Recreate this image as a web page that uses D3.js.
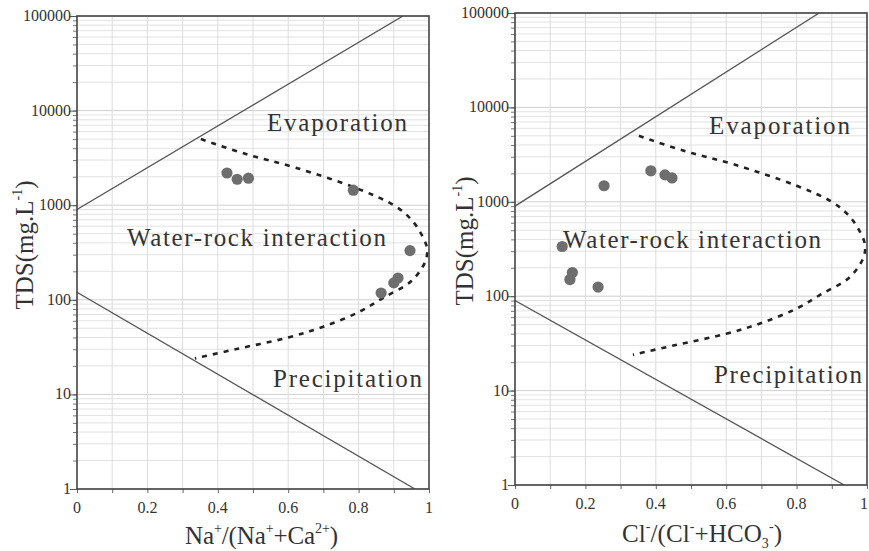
<!DOCTYPE html>
<html><head><meta charset="utf-8">
<script src="https://cdn.jsdelivr.net/npm/d3@7"></script>
<style>body{margin:0;background:#fff}svg{display:block}</style>
</head><body><div id="chart"></div>
<script>
// ---- data ----
const xTickValues = [0, 0.2, 0.4, 0.6, 0.8, 1];
const xTickLabels = ["0", "0.2", "0.4", "0.6", "0.8", "1"];
const yTickValues = [1, 10, 100, 1000, 10000, 100000];
const yTickLabels = ["1", "10", "100", "1000", "10000", "100000"];

// left panel: Na+/(Na+ + Ca2+)
const naRatio = [0.426, 0.455, 0.487, 0.785, 0.946, 0.912, 0.900, 0.864];
const naTDS   = [2190, 1880, 1930, 1440, 331, 170, 151, 118];
const naEvapLine   = [[0, 900], [0.926, 100000]];
const naPrecipLine = [[0, 120], [0.96, 1]];

// right panel: Cl-/(Cl- + HCO3-)
const clRatio = [0.386, 0.426, 0.446, 0.253, 0.134, 0.163, 0.156, 0.236];
const clTDS   = [2130, 1930, 1790, 1480, 336, 178, 150, 125];
const clEvapLine   = [[0, 900], [0.864, 100000]];
const clPrecipLine = [[0, 90], [0.935, 1]];

// boomerang (dashed) boundary, same in both panels
const curveX   = [0.352, 0.48, 0.62, 0.80, 0.90, 0.946, 0.975, 0.994, 0.99, 0.95, 0.87, 0.80, 0.70, 0.60, 0.45, 0.335];
const curveTDS = [5000, 3470, 2500, 1480, 1000, 730, 520, 355, 257, 158, 105, 74, 52, 40, 30, 24];

const regionLabels = ["Evaporation", "Water-rock interaction", "Precipitation"];

// ---- drawing ----
const W = 869, H = 551;
const FONT = "'Liberation Serif', 'Times New Roman', Times, 'DejaVu Serif', serif";
const svg = d3.select("#chart").append("svg").attr("width", W).attr("height", H)
  .attr("font-family", FONT);

function drawPanel(cfg) {
  const x = d3.scaleLinear().domain([0, 1]).range([cfg.x0, cfg.x1]);
  const y = d3.scaleLog().domain([1, 100000]).range([cfg.y1, cfg.y0]);
  const g = svg.append("g");

  // grid
  const minor = [];
  for (let e = 0; e < 5; e++) for (let m = 1; m <= 9; m++) minor.push(m * Math.pow(10, e));
  minor.push(100000);
  g.selectAll(".hg").data(minor).enter().append("line")
    .attr("x1", cfg.x0).attr("x2", cfg.x1)
    .attr("y1", d => y(d)).attr("y2", d => y(d))
    .attr("stroke", d => Math.abs(Math.log10(d) % 1) < 1e-9 ? "#cfcfcf" : "#e2e2e2").attr("stroke-width", 1);
  g.selectAll(".vg").data(d3.range(1, 10).map(i => i / 10)).enter().append("line")
    .attr("y1", cfg.y0).attr("y2", cfg.y1)
    .attr("x1", d => x(d)).attr("x2", d => x(d))
    .attr("stroke", "#dcdcdc").attr("stroke-width", 1);

  // axes
  g.append("g").attr("transform", `translate(${cfg.x0},0)`)
    .call(d3.axisLeft(y).tickValues(minor).tickSize(4).tickFormat(""))
    .call(a => { a.select(".domain").remove(); a.selectAll("line").attr("stroke", "#777"); });
  g.append("g").attr("transform", `translate(${cfg.x0},0)`)
    .call(d3.axisLeft(y).tickValues(yTickValues).tickSize(7).tickFormat(""))
    .call(a => { a.select(".domain").remove(); a.selectAll("line").attr("stroke", "#555"); });
  g.append("g").attr("transform", `translate(0,${cfg.y1})`)
    .call(d3.axisBottom(x).tickValues(d3.range(0, 11).map(i => i / 10)).tickSize(4).tickFormat(""))
    .call(a => { a.select(".domain").remove(); a.selectAll("line").attr("stroke", "#666"); });

  g.selectAll(".yl").data(yTickValues).enter().append("text")
    .attr("x", cfg.x0 - 6).attr("y", d => y(d) + 5).attr("fill", "#333")
    .attr("text-anchor", "end").attr("font-size", 16).text((d, i) => yTickLabels[i]);
  g.selectAll(".xl").data(xTickValues).enter().append("text")
    .attr("x", d => Math.min(x(d), W - 5)).attr("y", cfg.y1 + 24).attr("fill", "#333")
    .attr("text-anchor", "middle").attr("font-size", 16).text((d, i) => xTickLabels[i]);

  // clip
  const clipId = "clip" + cfg.id;
  svg.append("clipPath").attr("id", clipId).append("rect")
    .attr("x", cfg.x0).attr("y", cfg.y0).attr("width", cfg.x1 - cfg.x0).attr("height", cfg.y1 - cfg.y0);
  const pg = g.append("g").attr("clip-path", `url(#${clipId})`);
  const line = d3.line().x(d => x(d[0])).y(d => y(d[1]));
  [cfg.evap, cfg.precip].forEach(l => {
    pg.append("path").attr("d", line(l)).attr("fill", "none").attr("stroke", "#555").attr("stroke-width", 1.3);
  });
  const curvePts = curveX.map((v, i) => [v, curveTDS[i]]);
  pg.append("path").attr("d", d3.line().x(d => x(d[0])).y(d => y(d[1])).curve(d3.curveCatmullRom)(curvePts))
    .attr("fill", "none").attr("stroke", "#222").attr("stroke-width", 2.6).attr("stroke-dasharray", "5,6");

  // points
  g.selectAll(".pt").data(cfg.px).enter().append("circle")
    .attr("cx", d => x(d)).attr("cy", (d, i) => y(cfg.py[i])).attr("r", 5.6).attr("fill", "#6e6e6e");

  // frame
  g.append("rect").attr("x", cfg.x0).attr("y", cfg.y0).attr("width", cfg.x1 - cfg.x0).attr("height", cfg.y1 - cfg.y0)
    .attr("fill", "none").attr("stroke", "#444").attr("stroke-width", 1.6);

  // region labels
  cfg.labels.forEach((l, i) => {
    g.append("text").attr("x", l[0]).attr("y", l[1]).attr("font-size", 25).attr("fill", "#333")
      .attr("textLength", l[2]).attr("lengthAdjust", "spacing").text(regionLabels[i]);
  });

  // y title
  const yt = g.append("text").attr("transform", `translate(${cfg.ytx},${cfg.yty}) rotate(-90)`)
    .attr("text-anchor", "middle").attr("font-size", 25).attr("fill", "#333");
  yt.append("tspan").text("TDS(mg.L");
  yt.append("tspan").attr("font-size", 14).attr("dy", -11).text("-1");
  yt.append("tspan").attr("dy", 11).text(")");

  // x title
  const xt = g.append("text").attr("x", cfg.xtx).attr("y", cfg.xty).attr("font-size", 25).attr("fill", "#333")
    .attr("textLength", cfg.xtl).attr("lengthAdjust", "spacing");
  cfg.xtitle.forEach(p => {
    const t = xt.append("tspan").text(p[0]).attr("dy", p[1]);
    if (p[2]) t.attr("font-size", 14);
  });
}

drawPanel({
  id: "L", x0: 77, x1: 429, y0: 16, y1: 489,
  px: naRatio, py: naTDS, evap: naEvapLine, precip: naPrecipLine,
  labels: [[267, 131, 140], [127, 246, 259], [273, 387, 149]],
  ytx: 33, yty: 245,
  xtx: 185, xty: 544, xtl: 153,
  xtitle: [["Na", 0], ["+", -11, 1], ["/(Na", 11], ["+", -11, 1], ["+Ca", 11], ["2+", -11, 1], [")", 11]]
});
drawPanel({
  id: "R", x0: 515, x1: 867, y0: 13, y1: 485,
  px: clRatio, py: clTDS, evap: clEvapLine, precip: clPrecipLine,
  labels: [[709, 134, 141], [563, 248, 258], [714, 383, 148]],
  ytx: 473, yty: 241,
  xtx: 622, xty: 542, xtl: 160,
  xtitle: [["Cl", 0], ["-", -11, 1], ["/(Cl", 11], ["-", -11, 1], ["+HCO", 11], ["3", 6, 1], ["-", -17, 1], [")", 11]]
});
</script></body></html>
